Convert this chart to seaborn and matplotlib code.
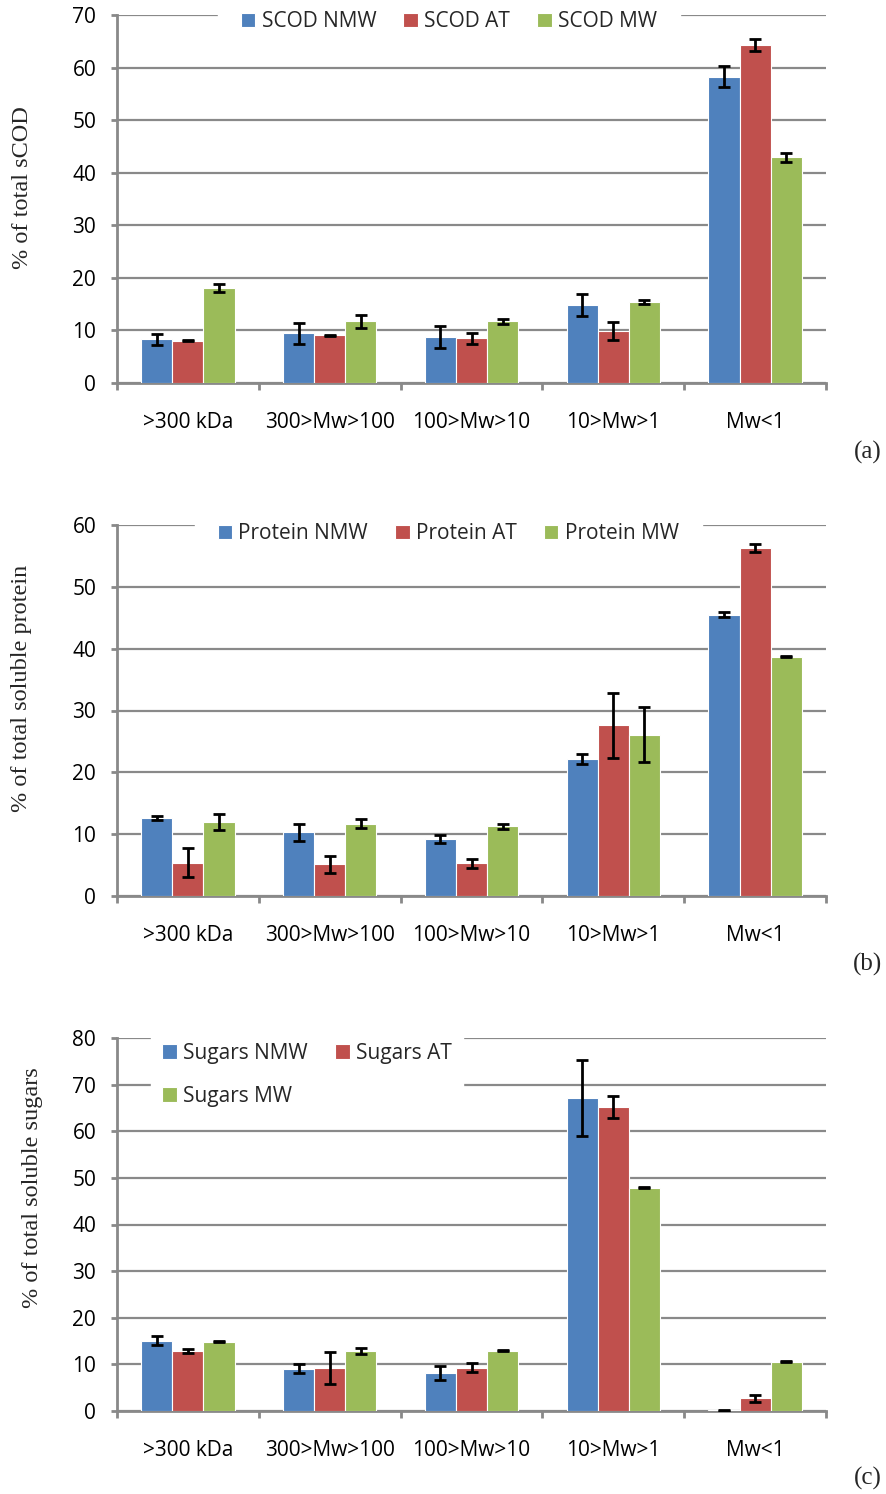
import matplotlib
matplotlib.use("Agg")
import matplotlib.pyplot as plt
import seaborn as sns
import numpy as np
import pandas as pd

# ---------------- data ----------------
categories = [">300 kDa", "300>Mw>100", "100>Mw>10", "10>Mw>1", "Mw<1"]

scod_series = ["SCOD NMW", "SCOD AT", "SCOD MW"]
scod_nmw = [8.3, 9.5, 8.7, 14.8, 58.3]
scod_at = [8.0, 9.1, 8.5, 9.9, 64.3]
scod_mw = [18.1, 11.7, 11.7, 15.4, 42.9]
scod_nmw_err = [1.1, 2.0, 2.1, 2.1, 2.0]
scod_at_err = [0.1, 0.1, 1.1, 1.7, 1.1]
scod_mw_err = [0.8, 1.2, 0.4, 0.4, 0.8]

prot_series = ["Protein NMW", "Protein AT", "Protein MW"]
prot_nmw = [12.6, 10.3, 9.2, 22.2, 45.5]
prot_at = [5.4, 5.1, 5.3, 27.6, 56.3]
prot_mw = [12.0, 11.7, 11.3, 26.1, 38.7]
prot_nmw_err = [0.3, 1.4, 0.6, 0.8, 0.4]
prot_at_err = [2.3, 1.3, 0.7, 5.3, 0.6]
prot_mw_err = [1.3, 0.7, 0.4, 4.4, 0.1]

sug_series = ["Sugars NMW", "Sugars AT", "Sugars MW"]
sug_nmw = [15.1, 9.1, 8.2, 67.1, 0.2]
sug_at = [12.9, 9.2, 9.3, 65.2, 2.7]
sug_mw = [14.9, 12.9, 12.9, 47.9, 10.6]
sug_nmw_err = [0.9, 1.0, 1.5, 8.2, 0.1]
sug_at_err = [0.5, 3.4, 0.9, 2.3, 0.8]
sug_mw_err = [0.1, 0.6, 0.1, 0.15, 0.15]

ylabels = ["% of total sCOD", "% of total soluble protein", "% of total soluble sugars"]
ymaxes = [70, 60, 80]
panel_tags = ["(a)", "(b)", "(c)"]

colors = ["#4F81BD", "#C0504D", "#9BBB59"]
GRID = "#898989"

# ---------------- style ----------------
sns.set_theme(style="white")
plt.rcParams["font.family"] = ["Open Sans", "DejaVu Sans"]

fig = plt.figure(figsize=(8.86, 14.94), dpi=100)

W, H = 886.0, 1494.0
ax_left, ax_right = 117, 826
panel_px = [(15, 383), (525, 896), (1038, 1411)]

panels = [
    (scod_series, [scod_nmw, scod_at, scod_mw], [scod_nmw_err, scod_at_err, scod_mw_err]),
    (prot_series, [prot_nmw, prot_at, prot_mw], [prot_nmw_err, prot_at_err, prot_mw_err]),
    (sug_series, [sug_nmw, sug_at, sug_mw], [sug_nmw_err, sug_at_err, sug_mw_err]),
]

legend_cfg = [
    dict(loc="center", bbox_to_anchor=(0.468, 0.981), ncol=3, borderpad=1.1),
    dict(loc="center", bbox_to_anchor=(0.467, 0.976), ncol=3, borderpad=1.1),
    dict(loc="center", bbox_to_anchor=(0.268, 0.901), ncol=2, borderpad=0.55),
]
ylabel_x = [-0.118, -0.120, -0.104]
ylabel_y = [0.53, 0.56, 0.60]
tag_y = [452, 964, 1478]

for i, (series, vals, errs) in enumerate(panels):
    top, bot = panel_px[i]
    ax = fig.add_axes([ax_left / W, 1 - bot / H, (ax_right - ax_left) / W, (bot - top) / H])

    rows = []
    for s, v in zip(series, vals):
        for c, val in zip(categories, v):
            rows.append({"cat": c, "series": s, "val": val})
    df = pd.DataFrame(rows)

    sns.barplot(data=df, x="cat", y="val", hue="series", order=categories,
                hue_order=series, palette=colors, width=0.66, errorbar=None,
                saturation=1, edgecolor="white", linewidth=0.8, ax=ax, zorder=3)

    for cont, e in zip(ax.containers, errs):
        xs = [p.get_x() + p.get_width() / 2 for p in cont]
        ys = [p.get_height() for p in cont]
        ax.errorbar(xs, ys, yerr=e, fmt="none", ecolor="black", elinewidth=2,
                    capsize=4, capthick=2, zorder=5)

    ymax = ymaxes[i]
    ax.set_ylim(0, ymax)
    ax.set_xlim(-0.5, 4.5)
    ax.set_yticks(np.arange(0, ymax + 1, 10))
    ax.yaxis.grid(True, color=GRID, linewidth=1.6)
    ax.xaxis.grid(False)
    ax.set_axisbelow(True)

    for sp in ["top", "right"]:
        ax.spines[sp].set_visible(False)
    for sp in ["left", "bottom"]:
        ax.spines[sp].set_color(GRID)
        ax.spines[sp].set_linewidth(2)

    ax.set_xticks(np.arange(-0.5, 5, 1), minor=True)
    ax.tick_params(axis="x", which="major", length=0, pad=21, labelsize=15, colors="black")
    ax.tick_params(axis="x", which="minor", length=5, width=2, color=GRID, direction="out", bottom=True)
    ax.tick_params(axis="y", which="major", length=4, width=2, color=GRID, direction="out",
                   left=True, pad=11, labelsize=15, labelcolor="black")

    ax.set_xlabel("")
    ax.set_ylabel(ylabels[i], family=["Liberation Serif", "DejaVu Serif"], fontsize=17.5)
    ax.yaxis.set_label_coords(ylabel_x[i], ylabel_y[i])

    h, l = ax.get_legend_handles_labels()
    if legend_cfg[i]["ncol"] == 2:
        # matplotlib fills columns first; reorder so rows read NMW, AT / MW
        order = [0, 2, 1]
        h = [h[k] for k in order]
        l = [l[k] for k in order]
    ax.legend(h, l, frameon=True, facecolor="white", edgecolor="white", framealpha=1,
              fancybox=False, fontsize=15, handlelength=0.7, handleheight=0.7,
              handletextpad=0.3, columnspacing=1.3, labelspacing=1.05,
              **legend_cfg[i])

    fig.text(882 / W, 1 - tag_y[i] / H, panel_tags[i], ha="right", va="center",
             family=["Liberation Serif", "DejaVu Serif"], fontsize=18)

fig.savefig("out.png", dpi=100, facecolor="white")
